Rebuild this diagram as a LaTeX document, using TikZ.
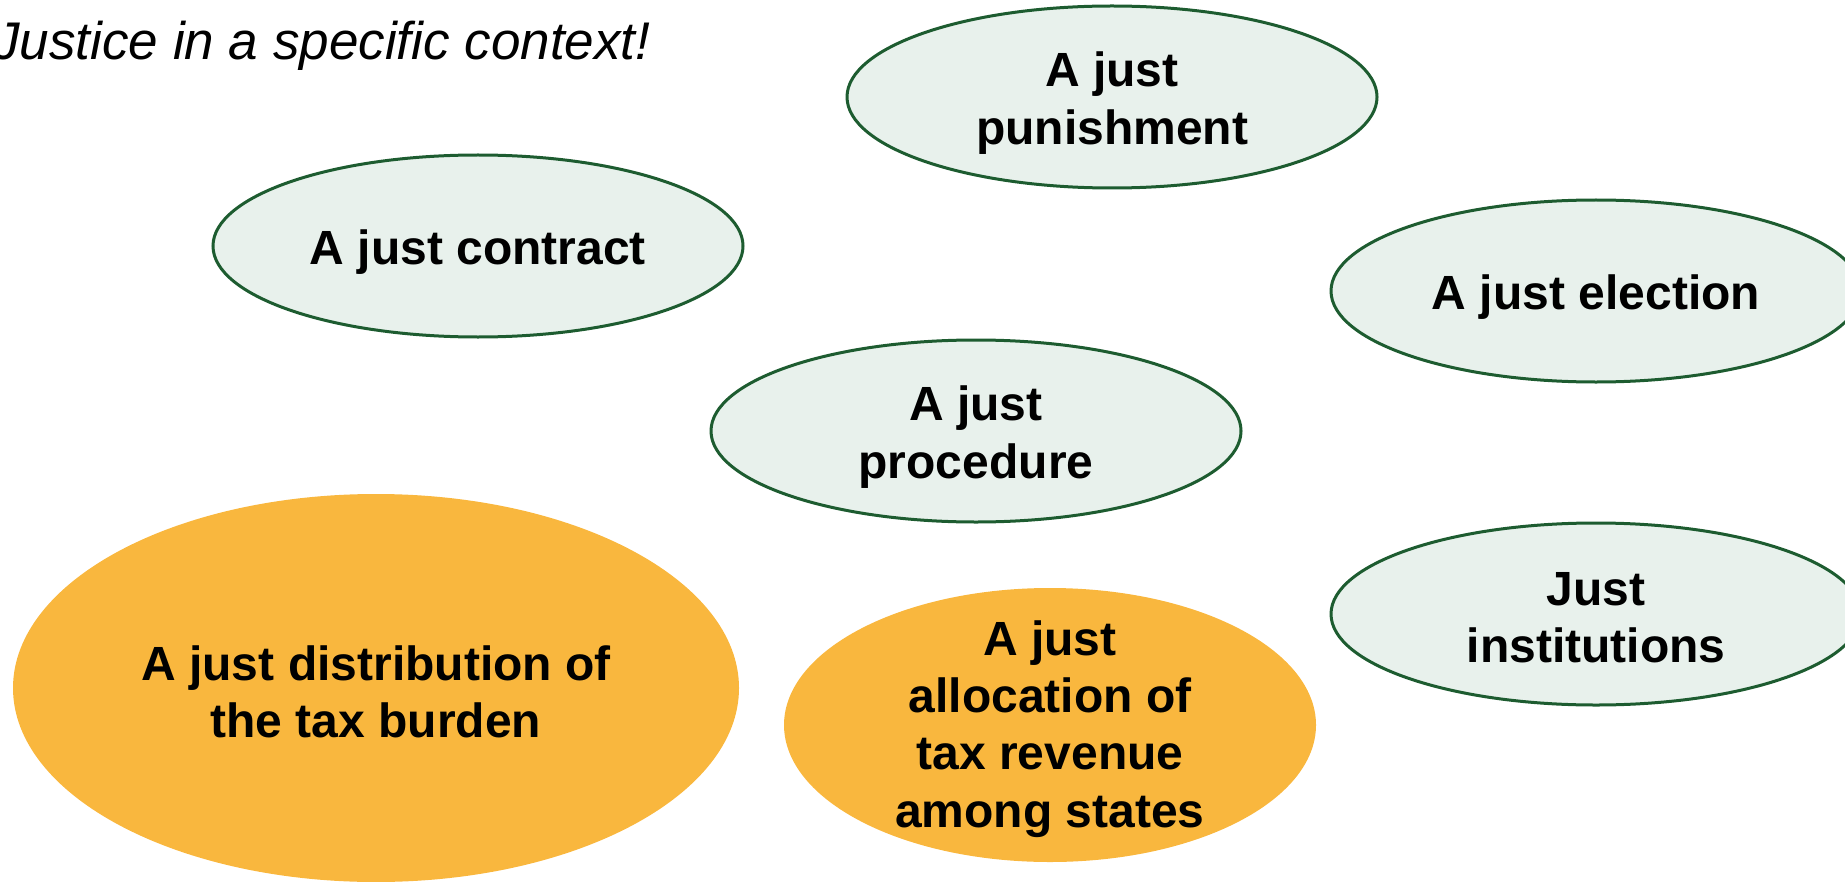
\documentclass[tikz,border=0pt]{standalone}
\usepackage{fontspec}
\setmainfont{Liberation Sans}
\usetikzlibrary{shapes.geometric}
\definecolor{gfill}{HTML}{E8F1EC}
\definecolor{gline}{HTML}{1D5C30}
\definecolor{ofill}{HTML}{F9B73E}
\begin{document}
\begin{tikzpicture}[x=0.5pt,y=-0.5pt,
  greenell/.style={ellipse, draw=gline, fill=gfill, line width=1.5pt,
    minimum width=265pt, minimum height=91pt, inner sep=0pt},
  orangeell/.style={ellipse, fill=ofill, inner sep=0pt},
  lbl/.style={align=center, inner sep=0pt, font=\fontsize{24}{28.6}\selectfont\bfseries}]
\useasboundingbox (0,0) rectangle (1845,882);
\node[anchor=base west, inner sep=0pt, font=\fontsize{26.5}{30}\selectfont\itshape] (title) at (-7,60) {Justice in a specific context!};
\node[greenell] (punish) at (1112,97) {};
\node[greenell] (contract) at (478,246) {};
\node[greenell] (election) at (1596,291) {};
\node[greenell] (procedure) at (976,431) {};
\node[greenell] (institutions) at (1596,614) {};
\node[orangeell, minimum width=363pt, minimum height=194pt] (distribution) at (376,688) {};
\node[orangeell, minimum width=266pt, minimum height=137pt] (allocation) at (1050,725) {};
\node[lbl] (punishT) at ([yshift=-3pt]punish.center) {A just\\punishment};
\node[lbl] (contractT) at ([yshift=-3pt]contract.center) {A just contract};
\node[lbl] (electionT) at ([yshift=-3pt]election.center) {A just election};
\node[lbl] (procedureT) at ([yshift=-3pt]procedure.center) {A just\\procedure};
\node[lbl] (institutionsT) at ([yshift=-2pt]institutions.center) {Just\\institutions};
\node[lbl] (distributionT) at ([yshift=-2pt]distribution.center) {A just distribution of\\the tax burden};
\node[lbl] (allocationT) at ([yshift=-2pt]allocation.center) {A just\\allocation of\\tax revenue\\among states};
\end{tikzpicture}
\end{document}
